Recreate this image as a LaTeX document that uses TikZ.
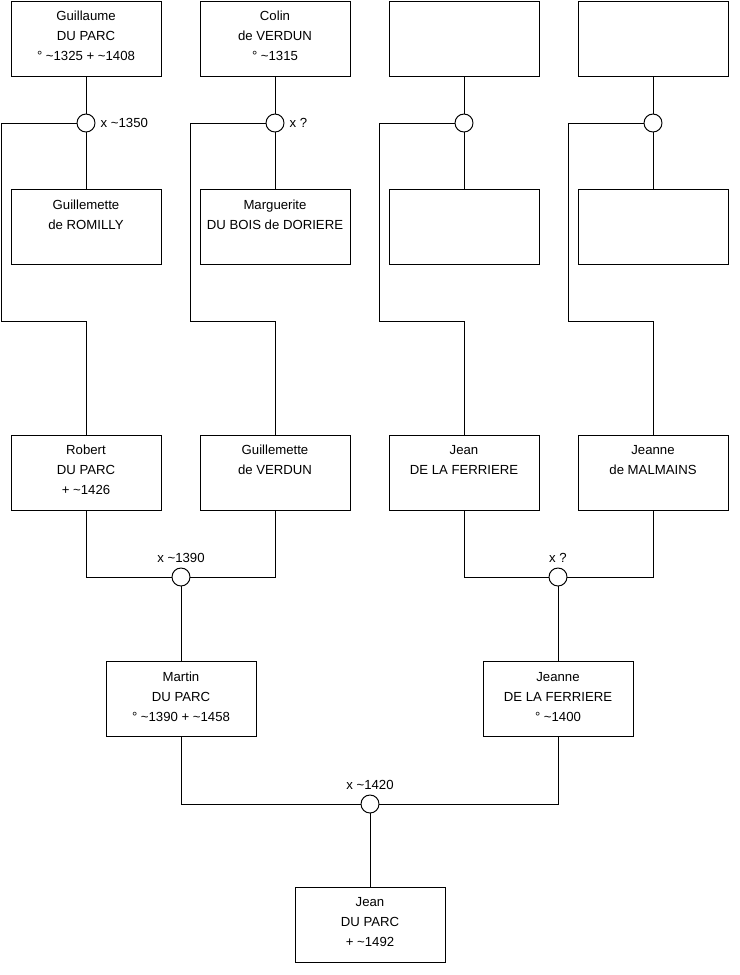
\documentclass[tikz,border=0pt]{standalone}
\usepackage{fontspec}
\setmainfont{Liberation Sans}
\usetikzlibrary{positioning}
\newcommand{\ca}{\textasciitilde}
\newcommand{\who}[1]{\parbox[c][1.5cm][t]{3cm}{\centering\rule{0pt}{0.39cm}#1}}

\begin{document}
\begin{tikzpicture}[
    x=0.02cm, y=-0.02cm,
    every path/.style={line width=0.55pt},
    person/.style={draw, inner sep=0pt, font=\fontsize{7.5}{11.38}\selectfont},
    wed/.style={draw, circle, fill=white, minimum size=0.36cm, inner sep=0pt},
    tag/.style={font=\fontsize{7.5}{8.5}\selectfont, inner sep=1pt}
]
    \useasboundingbox (0,0) rectangle (740,975);

    % === Great-grandparents ===
    \node[person] (p1) at (86,38.5) {\who{Guillaume\\DU PARC\\° \ca1325 + \ca1408}};
    \node[person] (p2) at (275,38.5) {\who{Colin\\de VERDUN\\° \ca1315}};
    \node[person] (p3) at (464,38.5) {\who{}};
    \node[person] (p4) at (653,38.5) {\who{}};

    \node[person] (w1) at (86,227) {\who{Guillemette\\de ROMILLY}};
    \node[person] (w2) at (275,227) {\who{Marguerite\\DU BOIS de DORIERE}};
    \node[person] (w3) at (464,227) {\who{}};
    \node[person] (w4) at (653,227) {\who{}};

    \node[wed] (m1) at (86,123) {};
    \node[wed] (m2) at (275,123) {};
    \node[wed] (m3) at (464,123) {};
    \node[wed] (m4) at (653,123) {};
    \node[tag, right=0.06cm of m1] (d1) {x \ca1350};
    \node[tag, right=0.06cm of m2] (d2) {x ?};

    \draw (p1) -- (m1) -- (w1);
    \draw (p2) -- (m2) -- (w2);
    \draw (p3) -- (m3) -- (w3);
    \draw (p4) -- (m4) -- (w4);

    % === Grandparents ===
    \node[person] (c1) at (86,472.5) {\who{Robert\\DU PARC\\+ \ca1426}};
    \node[person] (c2) at (275,472.5) {\who{Guillemette\\de VERDUN}};
    \node[person] (c3) at (464,472.5) {\who{Jean\\DE LA FERRIERE}};
    \node[person] (c4) at (653,472.5) {\who{Jeanne\\de MALMAINS}};

    \draw (m1.west) -| (1,321) -| (c1.north);
    \draw (m2.west) -| (190,321) -| (c2.north);
    \draw (m3.west) -| (379,321) -| (c3.north);
    \draw (m4.west) -| (568,321) -| (c4.north);

    \node[wed] (m5) at (181,577) {};
    \node[wed] (m6) at (558,577) {};
    \node[tag, above=0.06cm of m5] (d5) {x \ca1390};
    \node[tag, above=0.06cm of m6] (d6) {x ?};

    \draw (c1.south) |- (m5.west);
    \draw (c2.south) |- (m5.east);
    \draw (c3.south) |- (m6.west);
    \draw (c4.south) |- (m6.east);

    % === Parents ===
    \node[person] (g1) at (181,699) {\who{Martin\\DU PARC\\° \ca1390 + \ca1458}};
    \node[person] (g2) at (558,699) {\who{Jeanne\\DE LA FERRIERE\\° \ca1400}};
    \draw (m5) -- (g1);
    \draw (m6) -- (g2);

    \node[wed] (m7) at (370,804) {};
    \node[tag, above=0.06cm of m7] (d7) {x \ca1420};
    \draw (g1.south) |- (m7.west);
    \draw (g2.south) |- (m7.east);

    % Child
    \node[person] (h1) at (370,924.5) {\who{Jean\\DU PARC\\+ \ca1492}};
    \draw (m7) -- (h1);
\end{tikzpicture}
\end{document}
